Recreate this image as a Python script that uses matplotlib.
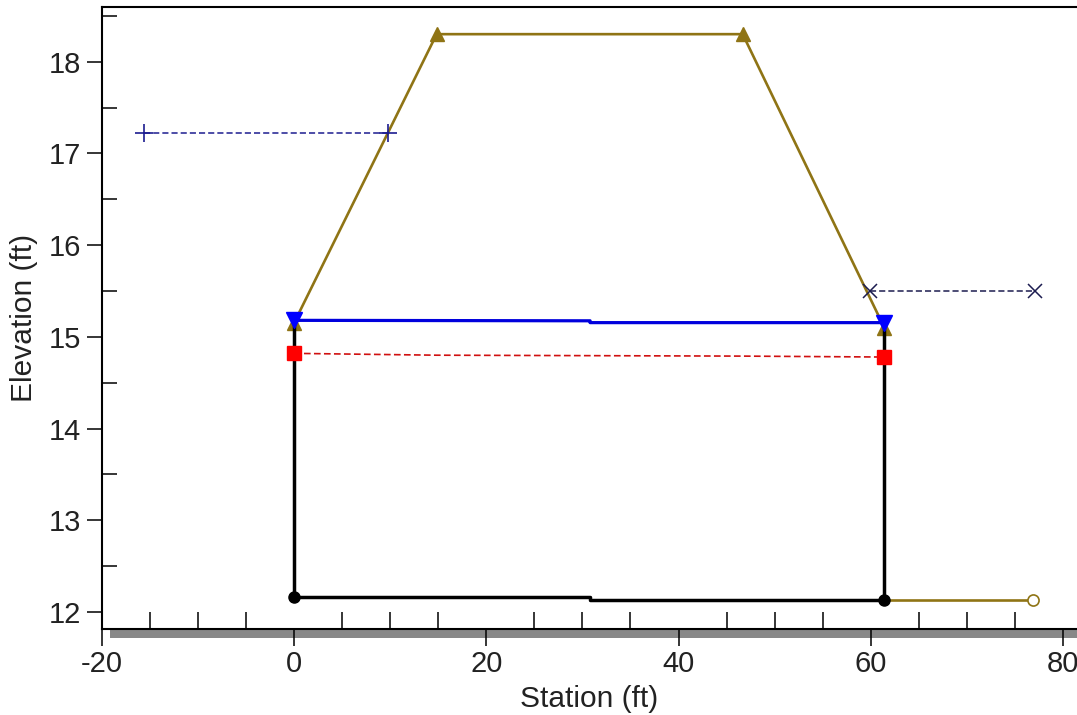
"""
Culvert cross section: station vs elevation, HEC-RAS style.
"""

import matplotlib

matplotlib.use("Agg")
import matplotlib.pyplot as plt
import matplotlib.transforms as mtransforms
from matplotlib.patches import Rectangle
from matplotlib.ticker import MultipleLocator

# road deck / embankment over the culvert
deck_sta = [0.0, 14.84, 46.67, 61.4]
deck_elev = [15.15, 18.30, 18.30, 15.10]

# ground downstream of the culvert
ground_sta = [61.4, 76.9]
ground_elev = [12.135, 12.135]

# culvert walls and invert
culvert_sta = [0.0, 0.0, 30.8, 30.8, 61.4, 61.4]
culvert_elev = [15.15, 12.16, 12.16, 12.135, 12.135, 15.10]

# water surface
ws_sta = [0.0, 30.8, 30.8, 61.4]
ws_elev = [15.18, 15.175, 15.155, 15.155]

# energy grade line
eg_sta = [0.0, 14.84, 46.67, 61.4]
eg_elev = [14.82, 14.80, 14.79, 14.78]

# left and right ineffective / levee lines
left_sta = [-15.6, 9.8]
left_elev = [17.225, 17.225]
right_sta = [59.9, 77.1]
right_elev = [15.495, 15.495]

plt.rcParams["font.family"] = ["Liberation Sans", "DejaVu Sans"]
plt.rcParams["axes.unicode_minus"] = False

fig = plt.figure(figsize=(10.77, 7.15), dpi=100)
ax = fig.add_axes([0.0944, 0.1203, 0.9056, 0.8695])

gold = "#8f7415"
ax.plot(deck_sta, deck_elev, color=gold, lw=1.9, marker="^", ms=10,
        mfc=gold, mec=gold, zorder=2)
ax.plot(ground_sta, ground_elev, color=gold, lw=1.9, zorder=2)
ax.plot(ground_sta[-1:], ground_elev[-1:], ls="none", marker="o", ms=8,
        mfc="white", mec=gold, mew=1.2, zorder=3)
ax.plot(culvert_sta, culvert_elev, color="black", lw=2.5, zorder=3)
ax.plot([culvert_sta[1], culvert_sta[4]], [culvert_elev[1], culvert_elev[4]],
        ls="none", marker="o", ms=8, color="black", zorder=4)
ax.plot(eg_sta, eg_elev, color="#d01010", lw=1.2, ls=(0, (4, 2)),
        marker="s", ms=10, markevery=[0, 3], mec="#ff0000", mfc="#ff0000",
        zorder=4)
ax.plot(ws_sta, ws_elev, color="#0000dd", lw=2.3, marker="v", ms=11,
        markevery=[0, 3], mfc="#0000ff", mec="#0000ff", zorder=5)
ax.plot(left_sta, left_elev, color="#1c1c90", lw=1.1, ls=(0, (4, 2)),
        marker="+", ms=13, mew=1.2, zorder=4)
ax.plot(right_sta, right_elev, color="#1c1c50", lw=1.1, ls=(0, (4, 2)),
        marker="x", ms=10, mew=1.1, zorder=4)

ax.set_xlim(-20, 81.44)
ax.set_ylim(11.815, 18.593)

ax.xaxis.set_major_locator(MultipleLocator(20))
ax.xaxis.set_minor_locator(MultipleLocator(5))
ax.yaxis.set_major_locator(MultipleLocator(1))
ax.yaxis.set_minor_locator(MultipleLocator(0.5))

txt = "#222222"
ax.tick_params(axis="x", which="major", direction="out", length=12,
               width=1.1, pad=3, labelsize=21, labelcolor=txt)
ax.tick_params(axis="x", which="minor", direction="in", length=12, width=1.1)
ax.tick_params(axis="y", which="major", direction="out", length=10.5,
               width=1.1, pad=4.5, labelsize=21, labelcolor=txt)
ax.tick_params(axis="y", which="minor", direction="in", length=11, width=1.1)

for side in ("left", "bottom", "top"):
    ax.spines[side].set_linewidth(1.5)
ax.spines["right"].set_visible(False)

# the last station label sits right on the figure edge; nudge it inside
fig.canvas.draw()
last = ax.get_xticklabels()[-1]
last.set_transform(last.get_transform()
                   + mtransforms.ScaledTranslation(-4 / 100, 0, fig.dpi_scale_trans))

ax.set_xlabel("Station (ft)", fontsize=21.5, color=txt, va="baseline")
ax.xaxis.set_label_coords(0.5, -0.125)
ax.set_ylabel("Elevation (ft)", fontsize=21.5, color=txt, va="center")
ax.yaxis.set_label_coords(-0.0797, 0.5)

# grey band under the station axis
fig.add_artist(Rectangle((110 / 1077, (715 - 637.5) / 715), 1 - 110 / 1077,
                         7.5 / 715, transform=fig.transFigure,
                         facecolor="#888888", edgecolor="none", zorder=0))

fig.savefig("out.png", dpi=100)
